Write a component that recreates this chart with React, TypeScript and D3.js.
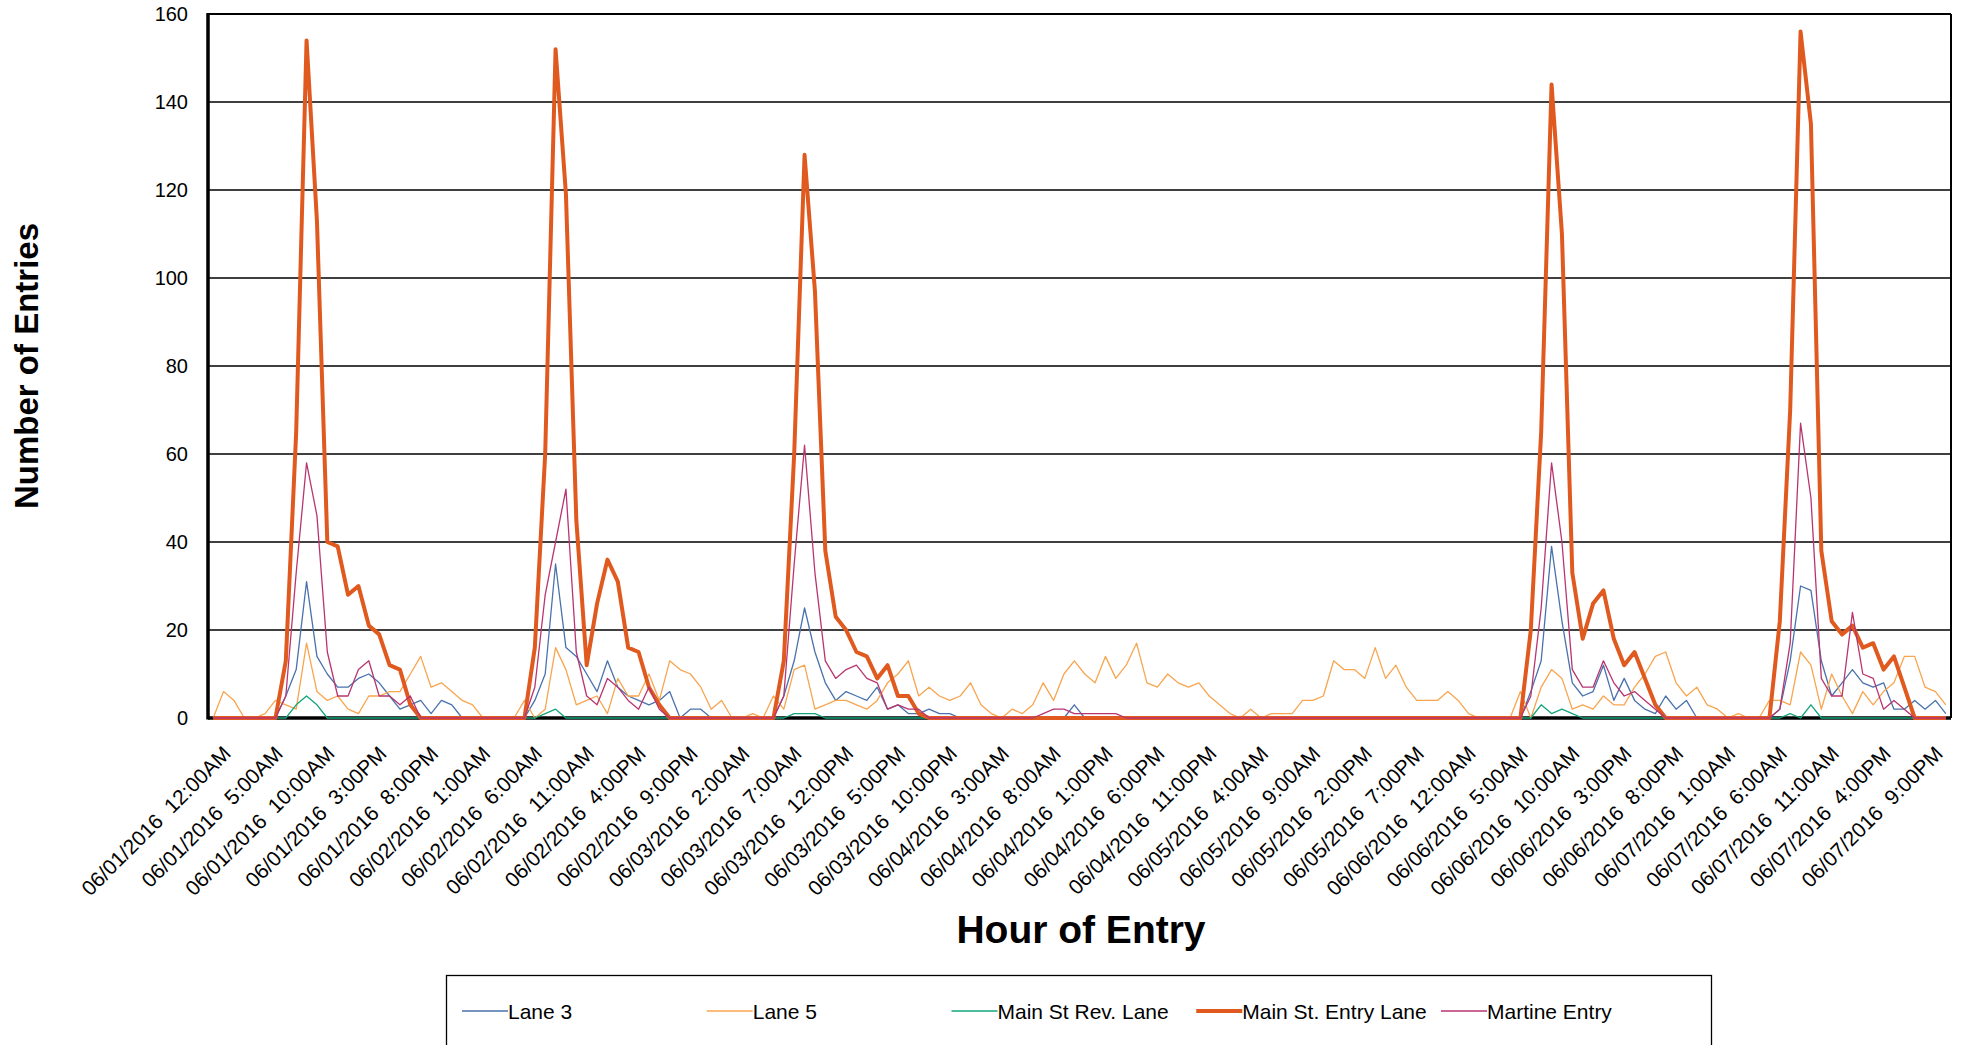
import { useEffect, useRef } from "react";
import * as d3 from "d3";

// hourly counts, 06/01/2016 12:00AM .. 06/07/2016 11:00PM (7 rows of 24)
const lane3 = [
	0, 0, 0, 0, 0, 0, 0, 5, 11, 31, 14, 10, 7, 7, 9, 10, 8, 5, 2, 3, 4, 1, 4, 3,
	0, 0, 0, 0, 0, 0, 0, 4, 10, 35, 16, 14, 10, 6, 13, 7, 5, 4, 3, 4, 6, 0, 2, 2,
	0, 0, 0, 0, 0, 0, 0, 5, 13, 25, 15, 8, 4, 6, 5, 4, 7, 2, 3, 1, 1, 2, 1, 1,
	0, 0, 0, 0, 0, 0, 0, 0, 0, 0, 0, 3, 0, 0, 0, 0, 0, 0, 0, 0, 0, 0, 0, 0,
	0, 0, 0, 0, 0, 0, 0, 0, 0, 0, 0, 0, 0, 0, 0, 0, 0, 0, 0, 0, 0, 0, 0, 0,
	0, 0, 0, 0, 0, 0, 0, 6, 13, 39, 22, 8, 5, 6, 12, 4, 9, 4, 2, 1, 5, 2, 4, 0,
	0, 0, 0, 0, 0, 0, 0, 2, 13, 30, 29, 13, 5, 8, 11, 8, 7, 8, 2, 2, 4, 2, 4, 1
];

const lane5 = [
	0, 6, 4, 0, 0, 1, 4, 3, 2, 17, 6, 4, 5, 2, 1, 5, 5, 6, 6, 10, 14, 7, 8, 6,
	4, 3, 0, 0, 0, 0, 4, 0, 2, 16, 11, 3, 4, 5, 1, 9, 5, 5, 10, 4, 13, 11, 10, 7,
	2, 4, 0, 0, 1, 0, 5, 2, 11, 12, 2, 3, 4, 4, 3, 2, 4, 8, 10, 13, 5, 7, 5, 4,
	5, 8, 3, 1, 0, 2, 1, 3, 8, 4, 10, 13, 10, 8, 14, 9, 12, 17, 8, 7, 10, 8, 7, 8,
	5, 3, 1, 0, 2, 0, 1, 1, 1, 4, 4, 5, 13, 11, 11, 9, 16, 9, 12, 7, 4, 4, 4, 6,
	4, 1, 0, 0, 0, 0, 6, 0, 7, 11, 9, 2, 3, 2, 5, 3, 3, 7, 10, 14, 15, 8, 5, 7,
	3, 2, 0, 1, 0, 0, 4, 4, 3, 15, 12, 2, 10, 5, 1, 6, 3, 6, 8, 14, 14, 7, 6, 3
];

const mainStRevLane = [
	0, 0, 0, 0, 0, 0, 0, 0, 3, 5, 3, 0, 0, 0, 0, 0, 0, 0, 0, 0, 0, 0, 0, 0,
	0, 0, 0, 0, 0, 0, 0, 0, 1, 2, 0, 0, 0, 0, 0, 0, 0, 0, 0, 0, 0, 0, 0, 0,
	0, 0, 0, 0, 0, 0, 0, 0, 1, 1, 1, 0, 0, 0, 0, 0, 0, 0, 0, 0, 0, 0, 0, 0,
	0, 0, 0, 0, 0, 0, 0, 0, 0, 0, 0, 0, 0, 0, 0, 0, 0, 0, 0, 0, 0, 0, 0, 0,
	0, 0, 0, 0, 0, 0, 0, 0, 0, 0, 0, 0, 0, 0, 0, 0, 0, 0, 0, 0, 0, 0, 0, 0,
	0, 0, 0, 0, 0, 0, 0, 0, 3, 1, 2, 1, 0, 0, 0, 0, 0, 0, 0, 0, 0, 0, 0, 0,
	0, 0, 0, 0, 0, 0, 0, 0, 1, 0, 3, 0, 0, 0, 0, 0, 0, 0, 0, 0, 0, 0, 0, 0
];

const mainStEntryLane = [
	0, 0, 0, 0, 0, 0, 0, 13, 65, 154, 113, 40, 39, 28, 30, 21, 19, 12, 11, 3, 0, 0, 0, 0,
	0, 0, 0, 0, 0, 0, 0, 16, 60, 152, 119, 45, 12, 26, 36, 31, 16, 15, 7, 3, 0, 0, 0, 0,
	0, 0, 0, 0, 0, 0, 0, 13, 60, 128, 97, 38, 23, 20, 15, 14, 9, 12, 5, 5, 1, 0, 0, 0,
	0, 0, 0, 0, 0, 0, 0, 0, 0, 0, 0, 0, 0, 0, 0, 0, 0, 0, 0, 0, 0, 0, 0, 0,
	0, 0, 0, 0, 0, 0, 0, 0, 0, 0, 0, 0, 0, 0, 0, 0, 0, 0, 0, 0, 0, 0, 0, 0,
	0, 0, 0, 0, 0, 0, 0, 20, 65, 144, 110, 33, 18, 26, 29, 18, 12, 15, 9, 3, 0, 0, 0, 0,
	0, 0, 0, 0, 0, 0, 0, 22, 70, 156, 135, 38, 22, 19, 21, 16, 17, 11, 14, 7, 0, 0, 0, 0
];

const martineEntry = [
	0, 0, 0, 0, 0, 0, 0, 5, 33, 58, 46, 15, 5, 5, 11, 13, 5, 5, 3, 5, 0, 0, 0, 0,
	0, 0, 0, 0, 0, 0, 0, 7, 28, 40, 52, 15, 5, 3, 9, 7, 4, 2, 7, 2, 0, 0, 0, 0,
	0, 0, 0, 0, 0, 0, 0, 5, 35, 62, 33, 13, 9, 11, 12, 9, 8, 2, 3, 2, 2, 0, 0, 0,
	0, 0, 0, 0, 0, 0, 0, 0, 1, 2, 2, 1, 1, 1, 1, 1, 0, 0, 0, 0, 0, 0, 0, 0,
	0, 0, 0, 0, 0, 0, 0, 0, 0, 0, 0, 0, 0, 0, 0, 0, 0, 0, 0, 0, 0, 0, 0, 0,
	0, 0, 0, 0, 0, 0, 0, 5, 25, 58, 40, 11, 7, 7, 13, 8, 5, 6, 4, 2, 0, 0, 0, 0,
	0, 0, 0, 0, 0, 0, 0, 2, 17, 67, 50, 9, 5, 5, 24, 10, 9, 2, 4, 2, 0, 0, 0, 0
];

// one label every 5 hours
const tickLabels = [
	"06/01/2016  12:00AM", "06/01/2016  5:00AM", "06/01/2016  10:00AM", "06/01/2016  3:00PM",
	"06/01/2016  8:00PM", "06/02/2016  1:00AM", "06/02/2016  6:00AM", "06/02/2016  11:00AM",
	"06/02/2016  4:00PM", "06/02/2016  9:00PM", "06/03/2016  2:00AM", "06/03/2016  7:00AM",
	"06/03/2016  12:00PM", "06/03/2016  5:00PM", "06/03/2016  10:00PM", "06/04/2016  3:00AM",
	"06/04/2016  8:00AM", "06/04/2016  1:00PM", "06/04/2016  6:00PM", "06/04/2016  11:00PM",
	"06/05/2016  4:00AM", "06/05/2016  9:00AM", "06/05/2016  2:00PM", "06/05/2016  7:00PM",
	"06/06/2016  12:00AM", "06/06/2016  5:00AM", "06/06/2016  10:00AM", "06/06/2016  3:00PM",
	"06/06/2016  8:00PM", "06/07/2016  1:00AM", "06/07/2016  6:00AM", "06/07/2016  11:00AM",
	"06/07/2016  4:00PM", "06/07/2016  9:00PM"
];
const tickStep = 5;

const yTicks = [0, 20, 40, 60, 80, 100, 120, 140, 160];

const series = [
	{ name: "Lane 3", values: lane3, color: "#4a72ad", width: 1.3 },
	{ name: "Lane 5", values: lane5, color: "#f8a54f", width: 1.3 },
	{ name: "Main St Rev. Lane", values: mainStRevLane, color: "#13a47c", width: 1.3 },
	{ name: "Main St. Entry Lane", values: mainStEntryLane, color: "#e05a20", width: 4 },
	{ name: "Martine Entry", values: martineEntry, color: "#b83570", width: 1.3 }
];

const W = 1961;
const H = 1045;
const font = "'Liberation Sans', Arial, sans-serif";

export default function App() {
	const ref = useRef<SVGSVGElement>(null);

	useEffect(() => {
		if (!ref.current) return;
		const svg = d3.select(ref.current);
		svg.selectAll("*").remove();

		const left = 208;
		const right = 1951;
		const top = 14;
		const bottom = 718;

		const hours = d3.range(lane3.length);
		const x = d3.scaleBand<number>().domain(hours).range([left, right]);
		const cx = (i: number) => (x(i) ?? 0) + x.bandwidth() / 2;
		const y = d3.scaleLinear().domain([0, 160]).range([bottom, top]);

		svg.append("rect").attr("width", W).attr("height", H).attr("fill", "#fff");

		// grid
		svg
			.append("g")
			.selectAll("line")
			.data(yTicks.filter((t) => t > 0))
			.join("line")
			.attr("x1", left)
			.attr("x2", right)
			.attr("y1", (d) => y(d))
			.attr("y2", (d) => y(d))
			.attr("stroke", "#000")
			.attr("stroke-width", (d) => (d === 160 ? 2.2 : 1.5));

		svg
			.append("line")
			.attr("x1", right)
			.attr("x2", right)
			.attr("y1", top)
			.attr("y2", bottom)
			.attr("stroke", "#000")
			.attr("stroke-width", 2);

		// y labels
		svg
			.append("g")
			.selectAll("text")
			.data(yTicks)
			.join("text")
			.attr("x", 188)
			.attr("y", (d) => y(d))
			.attr("text-anchor", "end")
			.attr("dominant-baseline", "central")
			.attr("font-family", font)
			.attr("font-size", 20)
			.attr("fill", "#000")
			.text((d) => d);

		// axes
		svg
			.append("line")
			.attr("x1", left)
			.attr("x2", right)
			.attr("y1", bottom)
			.attr("y2", bottom)
			.attr("stroke", "#000")
			.attr("stroke-width", 3.5);
		svg
			.append("line")
			.attr("x1", left)
			.attr("x2", left)
			.attr("y1", top - 1)
			.attr("y2", bottom + 1.5)
			.attr("stroke", "#000")
			.attr("stroke-width", 3.5);

		// x labels
		svg
			.append("g")
			.selectAll("text")
			.data(tickLabels)
			.join("text")
			.attr("transform", (_, i) => `translate(${cx(i * tickStep) + 19},755) rotate(-45)`)
			.attr("text-anchor", "end")
			.attr("font-family", font)
			.attr("font-size", 21)
			.attr("fill", "#000")
			.style("white-space", "pre")
			.text((d) => d);

		// lines
		const line = d3
			.line<number>()
			.x((_, i) => cx(i))
			.y((d) => y(d));

		svg
			.append("g")
			.selectAll("path")
			.data(series)
			.join("path")
			.attr("d", (s) => line(s.values))
			.attr("fill", "none")
			.attr("stroke", (s) => s.color)
			.attr("stroke-width", (s) => s.width)
			.attr("stroke-linejoin", "round");

		// titles
		svg
			.append("text")
			.attr("transform", "translate(38,366) rotate(-90)")
			.attr("text-anchor", "middle")
			.attr("font-family", font)
			.attr("font-weight", "bold")
			.attr("font-size", 33)
			.text("Number of Entries");

		svg
			.append("text")
			.attr("x", 1081)
			.attr("y", 943)
			.attr("text-anchor", "middle")
			.attr("font-family", font)
			.attr("font-weight", "bold")
			.attr("font-size", 39)
			.text("Hour of Entry");

		// legend
		svg
			.append("rect")
			.attr("x", 446.5)
			.attr("y", 975.5)
			.attr("width", 1265)
			.attr("height", 90)
			.attr("fill", "#fff")
			.attr("stroke", "#000")
			.attr("stroke-width", 1.3);

		const legendX = d3.scalePoint<string>().domain(series.map((s) => s.name)).range([462, 1441]);
		const items = svg
			.append("g")
			.selectAll("g")
			.data(series)
			.join("g")
			.attr("transform", (s) => `translate(${legendX(s.name)},1011)`);
		items
			.append("line")
			.attr("x1", 0)
			.attr("x2", 46)
			.attr("stroke", (s) => s.color)
			.attr("stroke-width", (s) => s.width);
		items
			.append("text")
			.attr("x", 46)
			.attr("dominant-baseline", "central")
			.attr("font-family", font)
			.attr("font-size", 21)
			.text((s) => s.name);
	}, []);

	return (
		<svg
			ref={ref}
			width={W}
			height={H}
			style={{ position: "absolute", left: 0, top: 0, display: "block" }}
		/>
	);
}
